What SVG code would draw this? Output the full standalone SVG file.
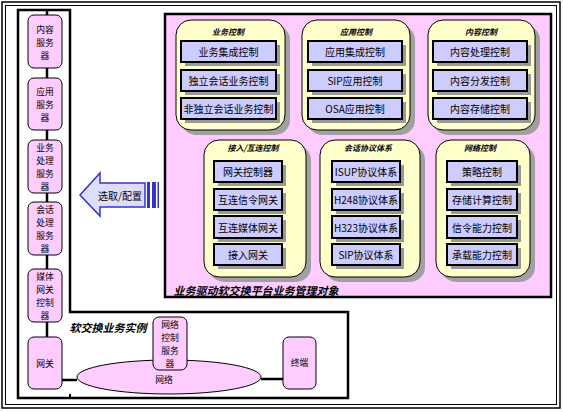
<svg xmlns="http://www.w3.org/2000/svg" width="563" height="412" viewBox="0 0 563 412">
<style>
text{font-family:"Noto Sans CJK SC","Liberation Sans",sans-serif;fill:#000;text-anchor:middle;dominant-baseline:central}
.srv{fill:#FFCCFF;stroke:#000;stroke-width:1}
.st{font-size:8.8px}
.grp{fill:#FFFFCC;stroke:#000;stroke-width:1}
.gsh{fill:#A0A0A0}
.box{fill:#CCCCFF;stroke:#000;stroke-width:2}
.bsh{fill:#999999}
.bt{font-size:10px}
.gt{font-size:8px;font-weight:bold;font-style:italic}
.lbl{font-size:11px;font-weight:bold;font-style:italic}
.ln{stroke:#000;stroke-width:2.5;fill:none}
</style>
<rect x="0" y="0" width="563" height="412" fill="#fff"/>
<rect x="2" y="2" width="558" height="406" fill="none" stroke="#000" stroke-width="1.5"/>
<rect x="5.5" y="5.5" width="551" height="399" fill="none" stroke="#000" stroke-width="1"/>

<g id="instance-frame">
<polygon points="18,10 70,10 70,312 348,312 348,398 18,398" fill="none" stroke="#000" stroke-width="2.5"/>
<text class="lbl" x="108" y="327">软交换业务实例</text>
</g>

<g id="connectors">
<line class="ln" x1="47" y1="10" x2="47" y2="337"/>
<line class="ln" x1="62" y1="380" x2="77" y2="380"/>
<line class="ln" x1="261" y1="379" x2="283" y2="379"/>
<line x1="70" y1="394" x2="70" y2="398" stroke="#000" stroke-width="2"/>
</g>

<g id="content-server"><rect class="srv" x="28" y="15" width="34" height="53" rx="6"/>
<text class="st" x="45" y="29">内容<tspan x="45" dy="13">服务</tspan><tspan x="45" dy="13">器</tspan></text></g>
<g id="app-server"><rect class="srv" x="28" y="78" width="34" height="52" rx="6"/>
<text class="st" x="45" y="91">应用<tspan x="45" dy="13">服务</tspan><tspan x="45" dy="13">器</tspan></text></g>
<g id="service-server"><rect class="srv" x="28" y="140" width="34" height="53" rx="6"/>
<text class="st" x="45" y="147">业务<tspan x="45" dy="13">处理</tspan><tspan x="45" dy="13">服务</tspan><tspan x="45" dy="13">器</tspan></text></g>
<g id="session-server"><rect class="srv" x="28" y="202" width="34" height="53" rx="6"/>
<text class="st" x="45" y="209">会话<tspan x="45" dy="13">处理</tspan><tspan x="45" dy="13">服务</tspan><tspan x="45" dy="13">器</tspan></text></g>
<g id="mgc"><rect class="srv" x="28" y="269" width="34" height="53" rx="6"/>
<text class="st" x="45" y="276">媒体<tspan x="45" dy="13">网关</tspan><tspan x="45" dy="13">控制</tspan><tspan x="45" dy="13">器</tspan></text></g>
<g id="gateway"><rect class="srv" x="28" y="337" width="34" height="52" rx="6"/>
<text class="st" x="45" y="363">网关</text></g>

<g id="network"><ellipse cx="169" cy="377" rx="92" ry="17" fill="#FFCCFF" stroke="#000" stroke-width="1"/>
<text class="st" x="164" y="379">网络</text></g>
<g id="network-control-server"><rect class="srv" x="153" y="317" width="34" height="53" rx="6"/>
<text class="st" x="170" y="324">网络<tspan x="170" dy="13">控制</tspan><tspan x="170" dy="13">服务</tspan><tspan x="170" dy="13">器</tspan></text></g>
<g id="terminal"><rect class="srv" x="283" y="337" width="33" height="52" rx="6"/>
<text class="st" x="299.5" y="362">终端</text></g>

<g id="select-config">
<polygon points="80,195 100,173 100,183 145,183 145,207 100,207 100,216" fill="#DDDDFF" stroke="#3333CC" stroke-width="1.5"/>
<rect x="147" y="182" width="3" height="26" fill="#3333CC"/>
<rect x="152" y="182" width="4" height="26" fill="#3333CC"/>
<rect x="157.5" y="182" width="1.5" height="26" fill="#3333CC"/>
<text x="120" y="195" style="font-size:10px">选取/配置</text>
</g>

<g id="platform">
<rect x="165" y="14" width="386" height="283" fill="#FFCCFF" stroke="#000" stroke-width="2.5"/>
<text class="lbl" x="256" y="290">业务驱动软交换平台业务管理对象</text>
</g>

<g id="service-control">
<rect class="gsh" x="181" y="25" width="109" height="110" rx="15"/>
<rect class="grp" x="176" y="20" width="109" height="110" rx="15"/>
<text class="gt" x="228" y="31">业务控制</text>
<rect class="bsh" x="185" y="45" width="95" height="21"/><rect class="box" x="181" y="41" width="95" height="21"/><text class="bt" x="228.5" y="51.5">业务集成控制</text>
<rect class="bsh" x="185" y="74" width="95" height="21"/><rect class="box" x="181" y="70" width="95" height="21"/><text class="bt" x="228.5" y="80.5">独立会话业务控制</text>
<rect class="bsh" x="185" y="102" width="95" height="21"/><rect class="box" x="181" y="98" width="95" height="21"/><text class="bt" x="228.5" y="108.5">非独立会话业务控制</text>
</g>

<g id="app-control">
<rect class="gsh" x="307" y="25" width="108" height="110" rx="15"/>
<rect class="grp" x="302" y="20" width="108" height="110" rx="15"/>
<text class="gt" x="356" y="31">应用控制</text>
<rect class="bsh" x="312" y="45" width="94" height="21"/><rect class="box" x="308" y="41" width="94" height="21"/><text class="bt" x="355" y="51.5">应用集成控制</text>
<rect class="bsh" x="312" y="74" width="94" height="21"/><rect class="box" x="308" y="70" width="94" height="21"/><text class="bt" x="355" y="80.5">SIP应用控制</text>
<rect class="bsh" x="312" y="102" width="94" height="21"/><rect class="box" x="308" y="98" width="94" height="21"/><text class="bt" x="355" y="108.5">OSA应用控制</text>
</g>

<g id="content-control">
<rect class="gsh" x="433" y="25" width="107" height="110" rx="15"/>
<rect class="grp" x="428" y="20" width="107" height="110" rx="15"/>
<text class="gt" x="481" y="31">内容控制</text>
<rect class="bsh" x="437" y="45" width="94" height="21"/><rect class="box" x="433" y="41" width="94" height="21"/><text class="bt" x="480" y="51.5">内容处理控制</text>
<rect class="bsh" x="437" y="74" width="94" height="21"/><rect class="box" x="433" y="70" width="94" height="21"/><text class="bt" x="480" y="80.5">内容分发控制</text>
<rect class="bsh" x="437" y="102" width="94" height="21"/><rect class="box" x="433" y="98" width="94" height="21"/><text class="bt" x="480" y="108.5">内容存储控制</text>
</g>

<g id="access-control">
<rect class="gsh" x="209" y="145" width="102" height="137" rx="15"/>
<rect class="grp" x="204" y="140" width="102" height="137" rx="15"/>
<text class="gt" x="253" y="147">接入/互连控制</text>
<rect class="bsh" x="218" y="165" width="68" height="21"/><rect class="box" x="214" y="161" width="68" height="21"/><text class="bt" x="248" y="171.5">网关控制器</text>
<rect class="bsh" x="218" y="193" width="68" height="21"/><rect class="box" x="214" y="189" width="68" height="21"/><text class="bt" x="248" y="199.5">互连信令网关</text>
<rect class="bsh" x="218" y="220" width="68" height="22"/><rect class="box" x="214" y="216" width="68" height="22"/><text class="bt" x="248" y="227">互连媒体网关</text>
<rect class="bsh" x="218" y="248" width="68" height="21"/><rect class="box" x="214" y="244" width="68" height="21"/><text class="bt" x="248" y="254.5">接入网关</text>
</g>

<g id="session-protocol">
<rect class="gsh" x="325" y="145" width="100" height="137" rx="15"/>
<rect class="grp" x="320" y="140" width="100" height="137" rx="15"/>
<text class="gt" x="368" y="147">会话协议体系</text>
<rect class="bsh" x="336" y="165" width="68" height="21"/><rect class="box" x="332" y="161" width="68" height="21"/><text class="bt" x="366" y="171.5">ISUP协议体系</text>
<rect class="bsh" x="336" y="193" width="68" height="21"/><rect class="box" x="332" y="189" width="68" height="21"/><text class="bt" x="366" y="199.5">H248协议体系</text>
<rect class="bsh" x="336" y="220" width="68" height="22"/><rect class="box" x="332" y="216" width="68" height="22"/><text class="bt" x="366" y="227">H323协议体系</text>
<rect class="bsh" x="336" y="248" width="68" height="21"/><rect class="box" x="332" y="244" width="68" height="21"/><text class="bt" x="366" y="254.5">SIP协议体系</text>
</g>

<g id="network-control">
<rect class="gsh" x="441" y="145" width="94" height="137" rx="15"/>
<rect class="grp" x="436" y="140" width="94" height="137" rx="15"/>
<text class="gt" x="480" y="147">网络控制</text>
<rect class="bsh" x="451" y="165" width="70" height="21"/><rect class="box" x="447" y="161" width="70" height="21"/><text class="bt" x="482" y="171.5">策略控制</text>
<rect class="bsh" x="451" y="193" width="70" height="21"/><rect class="box" x="447" y="189" width="70" height="21"/><text class="bt" x="482" y="199.5">存储计算控制</text>
<rect class="bsh" x="451" y="220" width="70" height="22"/><rect class="box" x="447" y="216" width="70" height="22"/><text class="bt" x="482" y="227">信令能力控制</text>
<rect class="bsh" x="451" y="248" width="70" height="21"/><rect class="box" x="447" y="244" width="70" height="21"/><text class="bt" x="482" y="254.5">承载能力控制</text>
</g>
</svg>
